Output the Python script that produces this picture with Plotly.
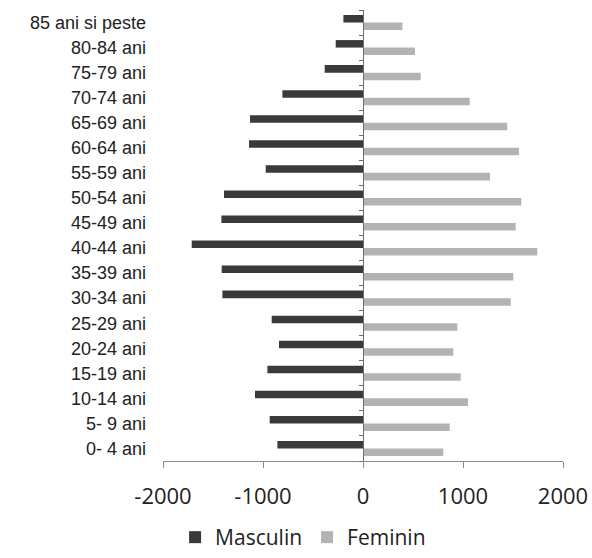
import plotly.graph_objects as go

age_groups = ["0- 4 ani", "5- 9 ani", "10-14 ani", "15-19 ani", "20-24 ani", "25-29 ani",
              "30-34 ani", "35-39 ani", "40-44 ani", "45-49 ani", "50-54 ani", "55-59 ani",
              "60-64 ani", "65-69 ani", "70-74 ani", "75-79 ani", "80-84 ani", "85 ani si peste"]
masculin = [-856, -933, -1080, -956, -840, -913,
            -1406, -1413, -1713, -1416, -1390, -973,
            -1140, -1130, -806, -383, -273, -196]
feminin = [803, 867, 1050, 977, 903, 943,
           1477, 1503, 1743, 1527, 1583, 1270,
           1560, 1443, 1067, 577, 520, 394]
x_tickvals = [-2000, -1000, 0, 1000, 2000]
x_ticktext = ["-2000", "-1000", "0", "1000", "2000"]

fig = go.Figure()
fig.add_trace(go.Bar(y=age_groups, x=feminin, orientation="h", name="Feminin",
                     marker=dict(color="#b3b3b3", line=dict(width=0)), legendrank=2))
fig.add_trace(go.Bar(y=age_groups, x=masculin, orientation="h", name="Masculin",
                     marker=dict(color="#3a3a3a", line=dict(width=0)), legendrank=1))
# invisible trace that carries the central axis (line at 0 with category ticks)
fig.add_trace(go.Bar(y=age_groups, x=[0] * len(age_groups), orientation="h", yaxis="y2",
                     showlegend=False, hoverinfo="skip", marker=dict(opacity=0)))

fig.update_layout(
    width=592, height=558,
    margin=dict(l=163, r=29, t=10, b=97, autoexpand=False),
    paper_bgcolor="white", plot_bgcolor="white",
    barmode="group", bargap=0.4, bargroupgap=0,
    font=dict(family="Liberation Sans, Arial, sans-serif", color="#222"),
    xaxis=dict(range=[-2000, 2000], tickvals=x_tickvals, ticktext=x_ticktext,
               showgrid=False, zeroline=False, showline=True, linecolor="#8a8a8a", linewidth=1,
               ticks="outside", ticklen=6, tickcolor="#8a8a8a", ticklabelstandoff=10,
               automargin=False,
               tickfont=dict(family="Open Sans, sans-serif", size=22, color="#222")),
    yaxis=dict(type="category", categoryorder="array", categoryarray=age_groups,
               range=[-0.5, 17.5], showgrid=False, zeroline=False, showline=False, ticks="",
               ticklabelstandoff=16, automargin=False,
               tickfont=dict(family="Liberation Sans, Arial, sans-serif", size=18, color="#222")),
    yaxis2=dict(type="category", categoryorder="array", categoryarray=age_groups,
                range=[-0.5, 17.5], overlaying="y", anchor="free", position=0.5, side="left",
                showgrid=False, zeroline=False, showline=True, linecolor="#6e6e6e", linewidth=1,
                ticks="outside", tickson="boundaries", ticklen=4, tickcolor="#6e6e6e",
                showticklabels=False),
    legend=dict(orientation="h", xref="container", yref="container",
                x=0.512, xanchor="center", y=0, yanchor="bottom",
                font=dict(family="Open Sans, sans-serif", size=21, color="#222"),
                itemwidth=30, tracegroupgap=0),
    showlegend=True,
)

fig.write_html("out.html")
